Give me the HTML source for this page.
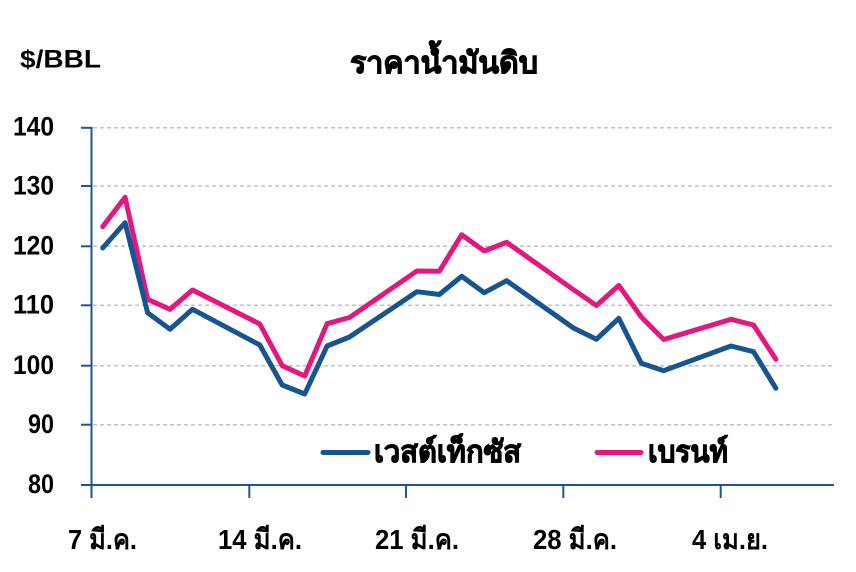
<!DOCTYPE html>
<html>
<head>
<meta charset="utf-8">
<style>
  html,body{margin:0;padding:0;background:#fff;}
  svg{display:block;}
  text{font-family:"Liberation Sans","Noto Sans CJK SC",sans-serif;font-weight:bold;fill:#000;}
  .th{stroke:#000;stroke-width:0.9px;}
</style>
</head>
<body>
<svg width="856" height="572" viewBox="0 0 856 572" xmlns="http://www.w3.org/2000/svg">
  <rect width="856" height="572" fill="#fff"/>

  <!-- header texts -->
  <text x="20" y="67.5" font-size="25" textLength="81" lengthAdjust="spacingAndGlyphs">$/BBL</text>
  <text class="th" x="350" y="73" font-size="30" textLength="188" lengthAdjust="spacingAndGlyphs">ราคาน้ำมันดิบ</text>

  <!-- gridlines -->
  <g stroke="#c4c0c4" stroke-width="1.5" stroke-dasharray="4 3">
    <line x1="93" y1="127.8" x2="834" y2="127.8"/>
    <line x1="93" y1="186" x2="834" y2="186"/>
    <line x1="93" y1="246.3" x2="834" y2="246.3"/>
    <line x1="93" y1="305.3" x2="834" y2="305.3"/>
    <line x1="93" y1="365.7" x2="834" y2="365.7"/>
    <line x1="93" y1="424.7" x2="834" y2="424.7"/>
  </g>

  <!-- axes -->
  <g stroke="#1f5591" stroke-width="2">
    <line x1="91.5" y1="127" x2="91.5" y2="498"/>
    <line x1="91" y1="485" x2="834" y2="485"/>
    <line x1="81" y1="127.8" x2="92" y2="127.8"/>
    <line x1="81" y1="186" x2="92" y2="186"/>
    <line x1="81" y1="246.3" x2="92" y2="246.3"/>
    <line x1="81" y1="305.3" x2="92" y2="305.3"/>
    <line x1="81" y1="365.7" x2="92" y2="365.7"/>
    <line x1="81" y1="424.7" x2="92" y2="424.7"/>
    <line x1="81" y1="485" x2="92" y2="485"/>
    <line x1="249.3" y1="485" x2="249.3" y2="498"/>
    <line x1="406" y1="485" x2="406" y2="498"/>
    <line x1="563.3" y1="485" x2="563.3" y2="498"/>
    <line x1="720.7" y1="485" x2="720.7" y2="498"/>
  </g>

  <!-- y labels -->
  <g font-size="27" text-anchor="end">
    <text x="54" y="135.5" textLength="41" lengthAdjust="spacingAndGlyphs">140</text>
    <text x="54" y="194.5" textLength="41" lengthAdjust="spacingAndGlyphs">130</text>
    <text x="54" y="254.5" textLength="41" lengthAdjust="spacingAndGlyphs">120</text>
    <text x="54" y="313.5" textLength="41" lengthAdjust="spacingAndGlyphs">110</text>
    <text x="54" y="374" textLength="41" lengthAdjust="spacingAndGlyphs">100</text>
    <text x="54" y="433" textLength="26" lengthAdjust="spacingAndGlyphs">90</text>
    <text x="54" y="493" textLength="26" lengthAdjust="spacingAndGlyphs">80</text>
  </g>

  <!-- x labels -->
  <g font-size="28">
    <text x="68" y="549" textLength="69" lengthAdjust="spacingAndGlyphs">7 มี.ค.</text>
    <text x="218" y="549" textLength="84" lengthAdjust="spacingAndGlyphs">14 มี.ค.</text>
    <text x="375" y="549" textLength="84" lengthAdjust="spacingAndGlyphs">21 มี.ค.</text>
    <text x="533" y="549" textLength="84" lengthAdjust="spacingAndGlyphs">28 มี.ค.</text>
    <text x="692" y="549" textLength="76" lengthAdjust="spacingAndGlyphs">4 เม.ย.</text>
  </g>

  <!-- series -->
  <polyline fill="none" stroke="#e2187f" stroke-width="5" stroke-linejoin="round" stroke-linecap="round"
    points="102.7,226.7 125.1,197.3 147.6,299.3 170,309.3 192.5,290 259.8,324 282.2,365.7 304.7,376 327.1,323.7 349.5,317.5 416.9,271 439.3,271.3 461.7,234.7 484.2,251 506.6,242.3 573.9,290 596.4,305.5 618.8,285.5 641.3,317 663.7,339.5 731,319.3 753.5,325 775.9,359.3"/>
  <polyline fill="none" stroke="#175590" stroke-width="5" stroke-linejoin="round" stroke-linecap="round"
    points="102.7,248 125.1,222.7 147.6,312.7 170,329.3 192.5,309.3 259.8,345 282.2,385 304.7,394 327.1,346 349.5,337 416.9,291.7 439.3,294.5 461.7,276.3 484.2,292.7 506.6,280.7 573.9,328.3 596.4,339.3 618.8,318.3 641.3,363.3 663.7,370.7 731,346 753.5,351.7 775.9,388.3"/>

  <!-- legend -->
  <line x1="323" y1="452.5" x2="368" y2="452.5" stroke="#175590" stroke-width="5" stroke-linecap="round"/>
  <text class="th" x="374" y="462" font-size="30" textLength="147" lengthAdjust="spacingAndGlyphs">เวสต์เท็กซัส</text>
  <line x1="597" y1="452.5" x2="641" y2="452.5" stroke="#e2187f" stroke-width="5" stroke-linecap="round"/>
  <text class="th" x="648" y="462" font-size="30" textLength="80" lengthAdjust="spacingAndGlyphs">เบรนท์</text>
</svg>
</body>
</html>
